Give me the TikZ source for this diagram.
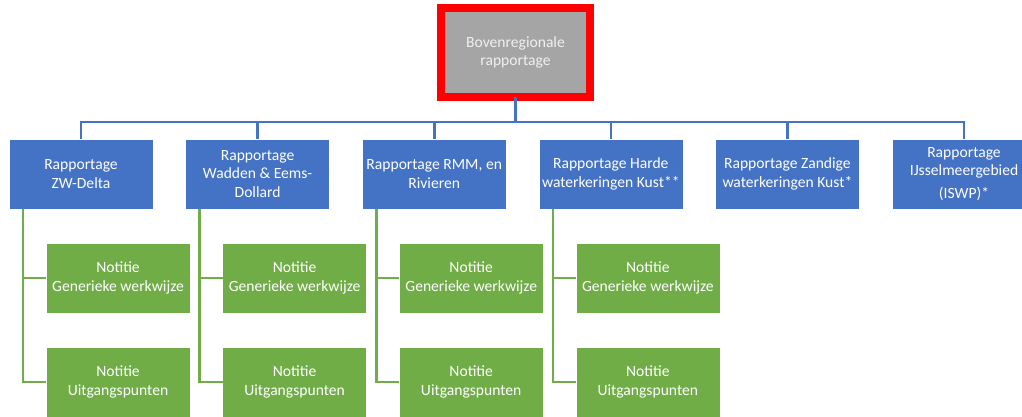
\documentclass[tikz,border=0pt]{standalone}
\usepackage{fontspec}
\setmainfont{Carlito}
\usetikzlibrary{positioning}
\definecolor{accblue}{HTML}{4472C4}
\definecolor{accgreen}{HTML}{70AD47}
\definecolor{accgray}{HTML}{A5A5A5}

\begin{document}
\begin{tikzpicture}[x=1pt,y=1pt,
    box/.style={rectangle, minimum width=144pt, minimum height=70pt, inner sep=0pt,
      outer sep=0pt, align=center, text=white, font=\fontsize{15.6}{18.5}\selectfont},
    region/.style={box, fill=accblue, draw=white, line width=0.6pt},
    note/.style={box, fill=accgreen, draw=white, line width=0.6pt},
    bluelink/.style={draw=accblue, line width=2.6pt},
    greenlink/.style={draw=accgreen, line width=2.6pt}]
  \useasboundingbox (0,0) rectangle (1022,-416);

  \node[box, fill=accgray, draw=red, line width=8.5pt, minimum width=149pt,
    minimum height=89pt, text=white!94!black] (top) at (515.5,-52.5) {Bovenregionale\\rapportage}; % top level

  % regional reports
  \node[region] (zw) at (81,-174) {Rapportage\\ZW-Delta};
  \node[region, right=32.6pt of zw] (wad) {Rapportage\\Wadden \& Eems-\\Dollard};
  \node[region, right=32.6pt of wad] (rmm) {Rapportage RMM, en\\Rivieren};
  \node[region, right=32.6pt of rmm] (hard) {Rapportage Harde\\waterkeringen Kust**};
  \node[region, right=32.6pt of hard] (zand) {Rapportage Zandige\\waterkeringen Kust*};
  \node[region, right=32.6pt of zand] (ij) {Rapportage\\IJsselmeergebied\\[4pt](ISWP)*};

  % notes below the first four
  \node[note, below right=34pt and 37pt of zw.south west] (zw-a) {Notitie\\Generieke werkwijze};
  \node[note, below=34pt of zw-a] (zw-b) {Notitie\\Uitgangspunten};
  \node[note, below right=34pt and 37pt of wad.south west] (wad-a) {Notitie\\Generieke werkwijze};
  \node[note, below=34pt of wad-a] (wad-b) {Notitie\\Uitgangspunten};
  \node[note, below right=34pt and 37pt of rmm.south west] (rmm-a) {Notitie\\Generieke werkwijze};
  \node[note, below=34pt of rmm-a] (rmm-b) {Notitie\\Uitgangspunten};
  \node[note, below right=34pt and 37pt of hard.south west] (hard-a) {Notitie\\Generieke werkwijze};
  \node[note, below=34pt of hard-a] (hard-b) {Notitie\\Uitgangspunten};

  \foreach \r in {zw,wad,rmm,hard,zand,ij}
    \draw[bluelink] (top.south) -- ++(0,-25) -| (\r.north);

  \foreach \r in {zw,wad,rmm,hard} {
    \coordinate (\r-t) at ([xshift=14pt]\r.south west);
    \draw[greenlink] (\r-t) |- (\r-a.west);
    \draw[greenlink] (\r-t) |- (\r-b.west);
  }
\end{tikzpicture}
\end{document}
